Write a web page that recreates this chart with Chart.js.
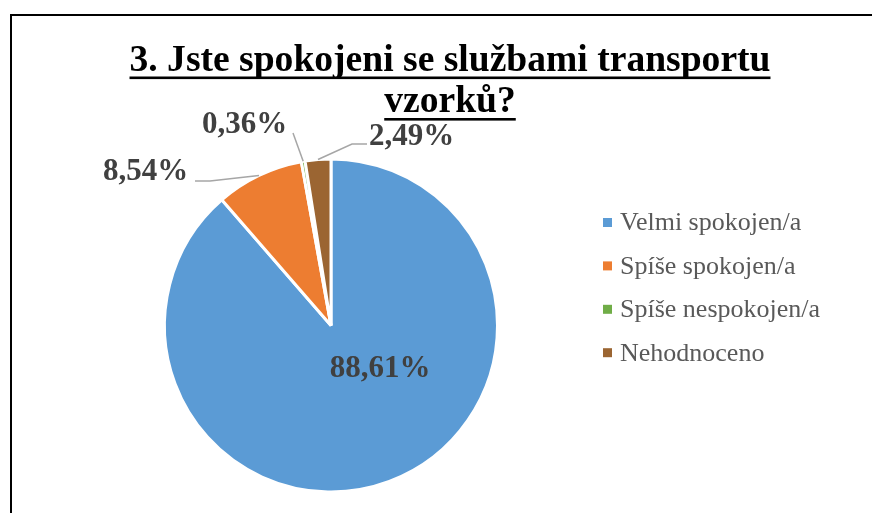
<!DOCTYPE html>
<html>
<head>
<meta charset="utf-8">
<script src="https://cdn.jsdelivr.net/npm/chart.js@4/dist/chart.umd.min.js"></script>
<style>
  html, body { margin: 0; padding: 0; background: #fff; }
  #wrap { width: 872px; height: 513px; position: relative; }
</style>
</head>
<body>
<div id="wrap"><canvas id="c" width="872" height="513"></canvas></div>
<script>
// ---- data ----
const titleLines = ['3. Jste spokojeni se službami transportu', 'vzorků?'];
const categories = ['Velmi spokojen/a', 'Spíše spokojen/a', 'Spíše nespokojen/a', 'Nehodnoceno'];
const values = [88.61, 8.54, 0.36, 2.49];
const colors = ['#5B9BD5', '#ED7D31', '#70AD47', '#9B6532'];

const FONT = '"Liberation Serif", "Times New Roman", serif';
const fmt = v => v.toFixed(2).replace('.', ',') + '%';

// layout for data labels (baseline-center) and leader line start points
const labelPos = [
  { x: 380, y: 377, lead: null },
  { x: 145.5, y: 180, lead: [[195, 181], [210, 181]] },
  { x: 244.5, y: 133, lead: [[293, 133]] },
  { x: 411.5, y: 145, lead: [[367, 144], [352, 144]] }
];

const decor = {
  id: 'decor',
  afterDraw(chart) {
    const ctx = chart.ctx;
    ctx.save();
    // frame (left and top edges)
    ctx.fillStyle = '#000';
    ctx.fillRect(10, 14, 2, 513);
    ctx.fillRect(10, 14, 872, 2);

    // title
    ctx.fillStyle = '#000';
    ctx.font = 'bold 37.6px ' + FONT;
    ctx.textAlign = 'center';
    ctx.textBaseline = 'alphabetic';
    const tcx = 450;
    const baselines = [71, 112];
    const ulY = [76.5, 118];
    titleLines.forEach((t, i) => {
      ctx.fillText(t, tcx, baselines[i]);
      const w = ctx.measureText(t).width;
      ctx.fillRect(tcx - w / 2, ulY[i], w, 2.6);
    });

    // leader lines + data labels
    const meta = chart.getDatasetMeta(0);
    meta.data.forEach((arc, i) => {
      const p = labelPos[i];
      if (p.lead) {
        const mid = (arc.startAngle + arc.endAngle) / 2;
        const ex = arc.x + Math.cos(mid) * arc.outerRadius;
        const ey = arc.y + Math.sin(mid) * arc.outerRadius;
        ctx.strokeStyle = '#A6A6A6';
        ctx.lineWidth = 1.5;
        ctx.beginPath();
        ctx.moveTo(p.lead[0][0], p.lead[0][1]);
        for (let k = 1; k < p.lead.length; k++) ctx.lineTo(p.lead[k][0], p.lead[k][1]);
        ctx.lineTo(ex, ey);
        ctx.stroke();
      }
      ctx.fillStyle = '#404040';
      ctx.font = 'bold 31px ' + FONT;
      ctx.textAlign = 'center';
      ctx.fillText(fmt(values[i]), p.x, p.y);
    });

    // legend
    ctx.font = '26px ' + FONT;
    ctx.textAlign = 'left';
    ctx.textBaseline = 'middle';
    const ly0 = 222.5, lstep = 43.4;
    categories.forEach((c, i) => {
      const y = ly0 + i * lstep;
      ctx.fillStyle = colors[i];
      ctx.fillRect(603, y - 4.5, 9, 9);
      ctx.fillStyle = '#595959';
      ctx.fillText(c, 620, y + 1);
    });
    ctx.restore();
  }
};

new Chart(document.getElementById('c'), {
  type: 'pie',
  data: {
    labels: categories,
    datasets: [{
      data: values,
      backgroundColor: colors,
      borderColor: '#FFFFFF',
      borderWidth: 3
    }]
  },
  options: {
    responsive: false,
    animation: false,
    devicePixelRatio: 1,
    layout: { padding: { left: 163, right: 373, top: 157, bottom: 19 } },
    plugins: {
      legend: { display: false },
      title: { display: false },
      tooltip: { enabled: false }
    }
  },
  plugins: [decor]
});
</script>
</body>
</html>
